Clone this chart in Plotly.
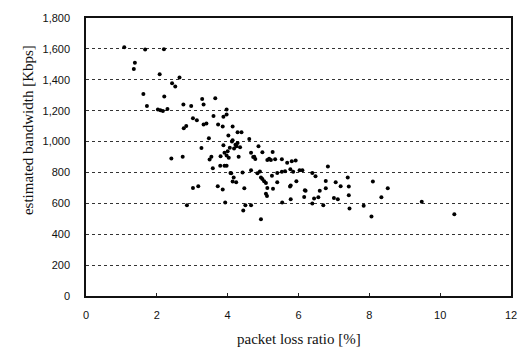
import plotly.graph_objects as go

# packet loss ratio [%] per measurement
loss_ratio = [
    1.08, 1.67, 2.20, 1.38, 1.35, 2.08, 2.64, 2.43, 2.52, 1.62,
    2.21, 1.72, 2.03, 2.10, 2.17, 2.30, 2.75, 2.97, 3.28, 3.32,
    3.65, 3.02, 3.13, 3.40, 3.32, 3.60, 3.97, 3.73, 3.86, 3.97,
    3.88, 2.76, 2.83, 4.02, 3.47, 4.14, 4.12, 4.28, 4.22, 4.25,
    3.26, 3.88, 4.00, 3.91, 3.97, 3.54, 3.49, 2.41, 2.73, 4.03,
    3.79, 3.91, 3.97, 3.58, 4.08, 4.17, 4.24, 3.02, 3.17, 3.72,
    3.86, 3.93, 4.44, 4.50, 4.66, 4.94, 5.54, 4.14, 4.47, 5.08,
    5.11, 5.12, 5.28, 5.76, 5.78, 6.16, 5.94, 6.18, 4.14, 4.28,
    4.39, 4.61, 4.35, 4.87, 5.27, 4.31, 4.72, 4.78, 4.98, 5.12,
    5.17, 5.22, 5.34, 5.53, 5.68, 5.92, 4.10, 4.42, 4.84, 4.91,
    4.94, 4.98, 5.03, 5.08, 5.25, 5.40, 5.53, 5.62, 5.77, 5.85,
    5.40, 5.78, 4.66, 4.75, 5.81, 6.83, 6.03, 6.11, 6.39, 6.48,
    6.77, 7.05, 7.19, 7.42, 8.10, 8.52, 6.20, 6.60, 6.77, 7.42,
    6.44, 6.56, 7.00, 7.11, 6.39, 6.70, 7.44, 7.84, 8.34, 8.06,
    7.39, 9.48, 10.40, 2.85, 4.66, 4.06, 4.18, 3.80,
]

# estimated bandwidth [Kbps] per measurement
bandwidth = [
    1611, 1596, 1598, 1511, 1469, 1435, 1414, 1378, 1357, 1308,
    1291, 1230, 1208, 1202, 1198, 1211, 1240, 1230, 1276, 1240,
    1280, 1151, 1138, 1117, 1111, 1166, 1208, 1111, 1097, 1175,
    1160, 1086, 1100, 1039, 1022, 1008, 1001, 990, 980, 970,
    959, 976, 938, 927, 910, 902, 884, 891, 902, 895,
    843, 843, 843, 827, 796, 768, 737, 700, 711, 711,
    690, 605, 554, 588, 588, 497, 605, 741, 698, 662,
    648, 700, 694, 709, 627, 641, 743, 684, 1097, 1060,
    1060, 1016, 963, 970, 933, 902, 900, 887, 931, 881,
    889, 881, 885, 885, 863, 878, 794, 800, 794, 806,
    768, 757, 743, 732, 779, 796, 804, 808, 821, 804,
    737, 715, 927, 902, 872, 838, 815, 815, 796, 775,
    745, 737, 711, 709, 741, 698, 681, 681, 698, 652,
    631, 639, 635, 627, 599, 588, 567, 584, 639, 514,
    768, 610, 529, 588, 814, 960, 955, 905,
]

x_ticks = [0, 2, 4, 6, 8, 10, 12]
y_ticks = [0, 200, 400, 600, 800, 1000, 1200, 1400, 1600, 1800]

fig = go.Figure(
    go.Scatter(
        x=loss_ratio,
        y=bandwidth,
        mode="markers",
        marker=dict(color="black", size=4, line=dict(width=0)),
        showlegend=False,
    )
)

tick_font = dict(family="Liberation Sans, Arial, sans-serif", size=11, color="#111")
title_font = dict(family="Liberation Serif, Times New Roman, serif", size=15, color="#111")

fig.update_xaxes(
    range=[0, 12],
    tickvals=x_ticks,
    ticks="inside",
    ticklen=3,
    tickcolor="#222",
    tickfont=tick_font,
    ticklabelstandoff=8,
    showgrid=False,
    zeroline=False,
    showline=True,
    linecolor="#111",
    linewidth=1.5,
    mirror=True,
)
fig.update_yaxes(
    range=[0, 1800],
    tickvals=y_ticks,
    tickformat=",",
    ticks="",
    tickfont=tick_font,
    ticklabelstandoff=12,
    showgrid=True,
    gridcolor="#333",
    griddash="dot",
    gridwidth=1,
    zeroline=False,
    showline=True,
    linecolor="#111",
    linewidth=1.5,
    mirror=True,
)

fig.update_layout(
    width=529,
    height=351,
    margin=dict(l=86, r=16, t=12, b=55),
    paper_bgcolor="white",
    plot_bgcolor="white",
    annotations=[
        dict(
            text="packet loss ratio [%]",
            xref="paper", yref="paper",
            x=0.501, y=-0.155,
            xanchor="center", yanchor="middle",
            showarrow=False,
            font=title_font,
        ),
        dict(
            text="estimated bandwidth [Kbps]",
            xref="paper", yref="paper",
            x=-0.138, y=0.285,
            xanchor="center", yanchor="bottom",
            textangle=-90,
            showarrow=False,
            font=title_font,
        ),
    ],
)

fig.write_html("out.html")
